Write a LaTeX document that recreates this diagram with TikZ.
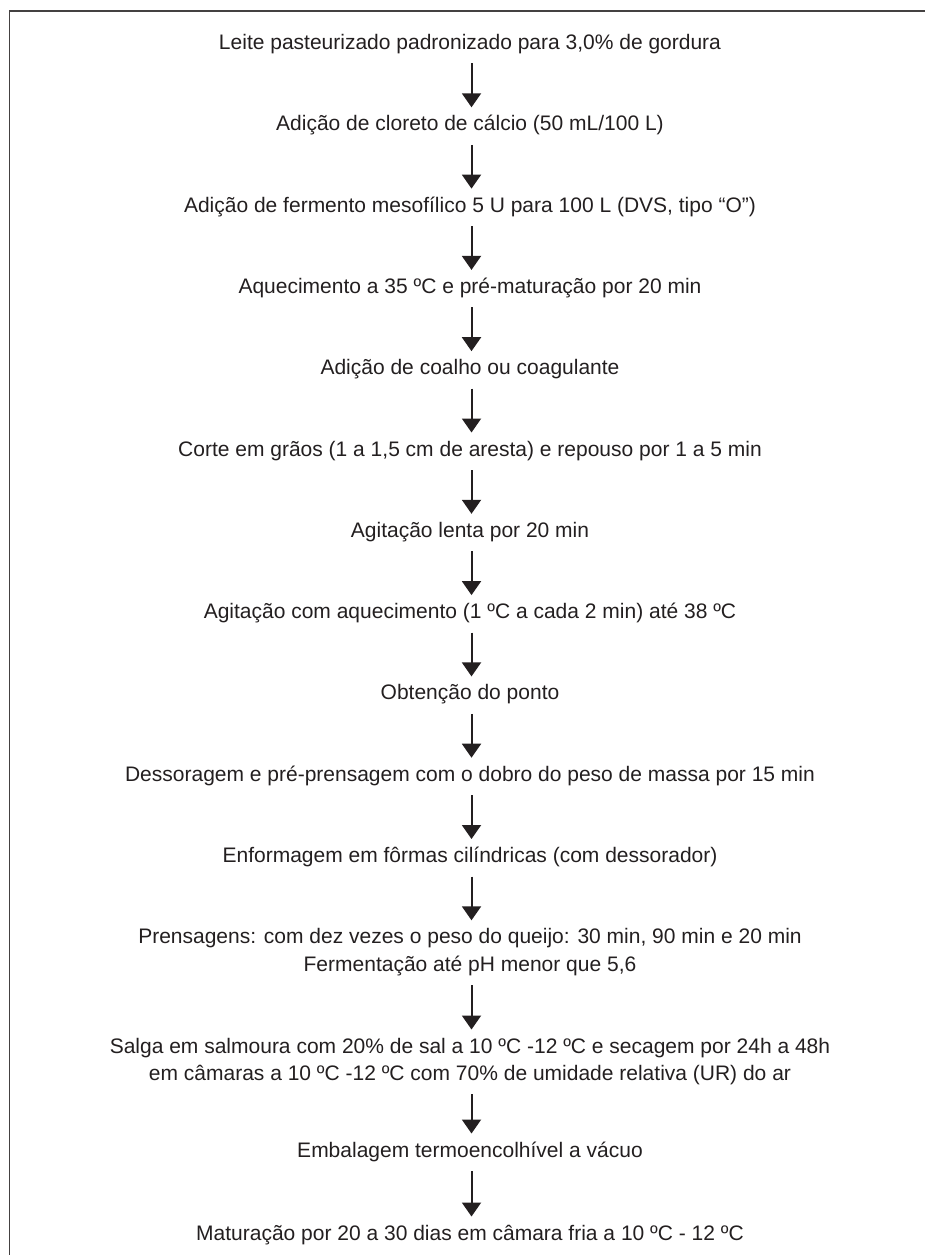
\documentclass[tikz,border=0pt]{standalone}
\usepackage{fontspec}
\setmainfont{Liberation Sans}
\usetikzlibrary{arrows.meta,calc}
\definecolor{ink}{HTML}{231F20}
\begin{document}
\begin{tikzpicture}[x=1pt,y=-1pt,
  steptext/.style={font=\fontsize{21}{25}\selectfont, text=ink, inner sep=0pt, anchor=base},
  flow/.style={draw=ink, line width=2pt, -{Triangle[width=19pt,length=14pt]}},
  frameline/.style={draw=ink!85, line width=1.4pt}]
\useasboundingbox (0,0) rectangle (925,1255);
\draw[frameline] (9.5,1258) -- (9.5,11) -- (928,11);

\node[steptext] (s1)  at (470,49.5)  {Leite pasteurizado padronizado para 3,0\% de gordura};
\node[steptext] (s2)  at (470,130.8) {Adição de cloreto de cálcio (50 mL/100 L)};
\node[steptext] (s3)  at (470,212.1) {Adição de fermento mesofílico 5 U para 100 L (DVS, tipo “O”)};
\node[steptext] (s4)  at (470,293.4) {Aquecimento a 35 ºC e pré-maturação por 20 min};
\node[steptext] (s5)  at (470,374.7) {Adição de coalho ou coagulante};
\node[steptext] (s6)  at (470,456.0) {Corte em grãos (1 a 1,5 cm de aresta) e repouso por 1 a 5 min};
\node[steptext] (s7)  at (470,537.3) {Agitação lenta por 20 min};
\node[steptext] (s8)  at (470,618.6) {Agitação com aquecimento (1 ºC a cada 2 min) até 38 ºC};
\node[steptext] (s9)  at (470,699.9) {Obtenção do ponto};
\node[steptext] (s10) at (470,781.2) {Dessoragem e pré-prensagem com o dobro do peso de massa por 15 min};
\node[steptext] (s11) at (470,862.5) {Enformagem em fôrmas cilíndricas (com dessorador)};
\node[steptext] (s12a) at (470,943.8) {Prensagens: com dez vezes o peso do queijo: 30 min, 90 min e 20 min};
\node[steptext] (s12b) at (470,971)  {Fermentação até pH menor que 5,6};
\node[steptext] (s13a) at (470,1053) {Salga em salmoura com 20\% de sal a 10 ºC -12 ºC e secagem por 24h a 48h};
\node[steptext] (s13b) at (470,1080) {em câmaras a 10 ºC -12 ºC com 70\% de umidade relativa (UR) do ar};
\node[steptext] (s14) at (470,1157) {Embalagem termoencolhível a vácuo};
\node[steptext] (s15) at (470,1240) {Maturação por 20 a 30 dias em câmara fria a 10 ºC - 12 ºC};

\foreach \a/\b in {s1/s2,s2/s3,s3/s4,s4/s5,s5/s6,s6/s7,s7/s8,s8/s9,s9/s10,s10/s11,s11/s12a,s12b/s13a,s13b/s14,s14/s15}
  \draw[flow] ($(\a.base)+(1.5,14)$) -- ($(\b.base)+(1.5,-23.5)$);
\end{tikzpicture}
\end{document}
